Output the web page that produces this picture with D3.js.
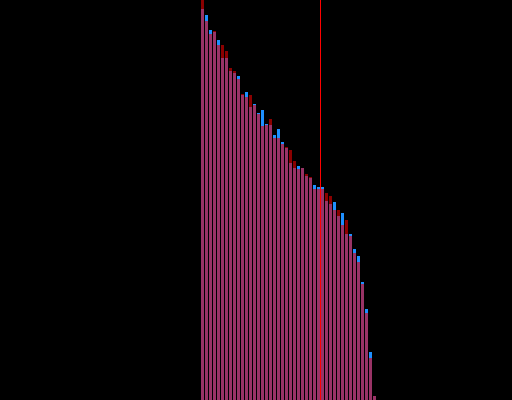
<!DOCTYPE html>
<html>
<head>
<meta charset="utf-8">
<script src="https://cdn.jsdelivr.net/npm/d3@7"></script>
<style>
html,body{margin:0;padding:0;background:#000;overflow:hidden;}
svg{display:block;}
</style>
</head>
<body>
<svg id="chart" width="512" height="400"></svg>
<script>
const categories = d3.range(44).map(i => "C" + (i + 1));
const previous = [400,379,366,369,355,355,349,332,329,321,306,303,305,295,286,274,275,281,262,262,256,253,250,239,231,232,226,223,211,211,211,207,204,190,190,175,180,164,147,138,116,87,42,4];
const current  = [391,385,370,368,360,342,342,329,327,324,305,308,293,296,287,290,276,275,265,271,258,252,237,232,234,232,224,222,215,213,213,199,196,198,184,187,166,166,151,144,118,91,48,4];
const markerAfter = "C30"; // red marker line sits between C30 and C31

const data = categories.map((c, i) => ({cat: c, prev: previous[i], curr: current[i]}));

const W = 512, H = 400;
const svg = d3.select("#chart");
svg.append("rect").attr("width", W).attr("height", H).attr("fill", "#000");

const x = d3.scaleBand().domain(categories).range([201, 376]).paddingInner(0.25).paddingOuter(0);
const y = d3.scaleLinear().domain([0, 400]).range([H, 0]);

const g = svg.append("g").attr("shape-rendering", "crispEdges");

g.selectAll("rect.base").data(data).join("rect")
  .attr("class", "base")
  .attr("x", d => x(d.cat))
  .attr("width", x.bandwidth())
  .attr("y", d => y(Math.min(d.prev, d.curr)))
  .attr("height", d => y(0) - y(Math.min(d.prev, d.curr)))
  .attr("fill", "#993366");

g.selectAll("rect.diff").data(data.filter(d => d.prev !== d.curr)).join("rect")
  .attr("class", "diff")
  .attr("x", d => x(d.cat))
  .attr("width", x.bandwidth())
  .attr("y", d => y(Math.max(d.prev, d.curr)))
  .attr("height", d => y(Math.min(d.prev, d.curr)) - y(Math.max(d.prev, d.curr)))
  .attr("fill", d => d.curr > d.prev ? "#1e90ff" : "#8b0000");

const lx = x(markerAfter) + x.bandwidth() + (x.step() - x.bandwidth()) / 2;
g.append("rect")
  .attr("x", Math.floor(lx))
  .attr("width", 1)
  .attr("y", 0)
  .attr("height", H)
  .attr("fill", "#ff0000");
</script>
</body>
</html>
